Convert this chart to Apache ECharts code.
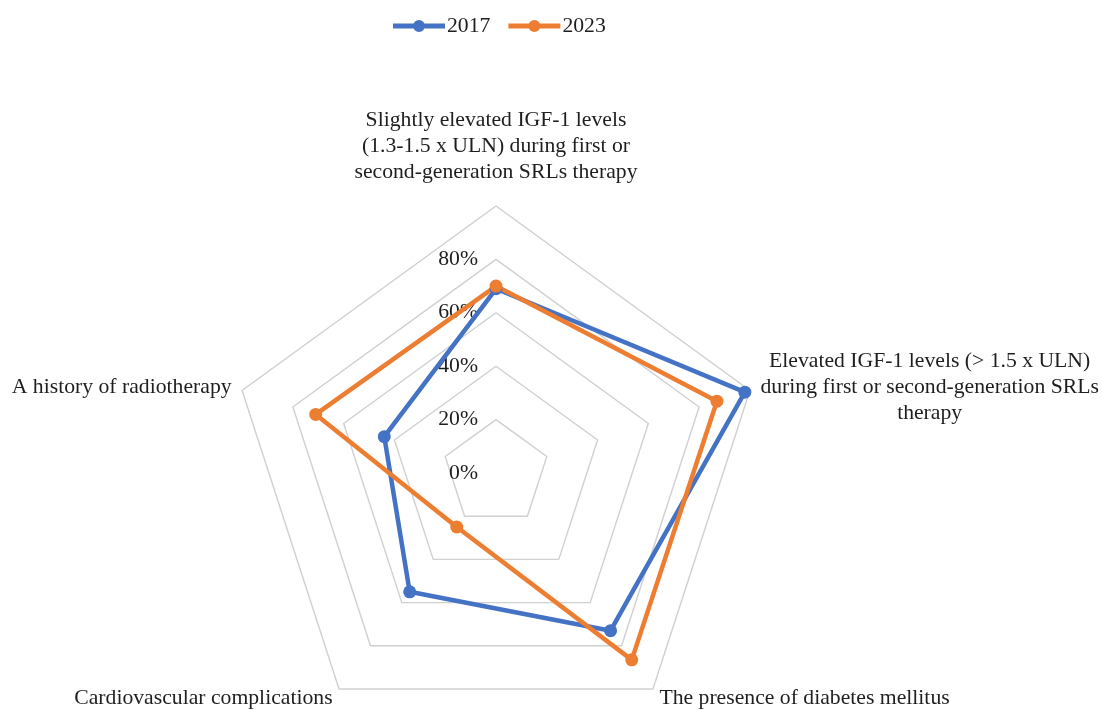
<!DOCTYPE html>
<html><head><meta charset="utf-8">
<script src="https://cdn.jsdelivr.net/npm/echarts@6/dist/echarts.min.js"></script>
<style>html,body{margin:0;padding:0;background:#fff}#c{width:1102px;height:710px}</style>
</head><body><div id="c"></div>
<script>
// Indicators in ECharts order (top first, then counter-clockwise)
const indicatorNames = [
  'Slightly elevated IGF-1 levels\n(1.3-1.5 x ULN) during first or\nsecond-generation SRLs therapy',
  'A history of radiotherapy',
  'Cardiovascular complications',
  'The presence of diabetes mellitus',
  'Elevated IGF-1 levels (> 1.5 x ULN)\nduring first or second-generation SRLs\ntherapy'
];
const values2017 = [69, 44, 55, 73, 98];
const values2023 = [70, 71, 25, 86.5, 87];
const seriesNames = ['2017', '2023'];
const seriesColors = ['#4472C4', '#ED7D31'];
const axisMax = 100;

const FONT = "'Liberation Serif', 'Times New Roman', serif";
const FS = 21.7;
const legendIcon = 'path://M0,4L52,4L52,9L0,9Z M20,6.5A6,6 0 1,1 32,6.5A6,6 0 1,1 20,6.5Z';

const chart = echarts.init(document.getElementById('c'));
chart.setOption({
  backgroundColor: '#fff',
  animation: false,
  legend: {
    left: 388, top: 10,
    itemWidth: 52, itemHeight: 13, itemGap: 18,
    data: seriesNames.map(n => ({ name: n, icon: legendIcon })),
    textStyle: { fontFamily: FONT, fontSize: FS, color: '#1e1e1e', padding: [0, 0, 0, -3] }
  },
  radar: {
    center: [496, 473],
    radius: 267,
    startAngle: 90,
    shape: 'polygon',
    splitNumber: 5,
    axisNameGap: 11,
    indicator: indicatorNames.map((n, i) => {
      const o = { name: n, min: 0, max: axisMax };
      if (i === 0) o.nameGap = 21;
      else o.axisLabel = { show: false };
      return o;
    }),
    axisName: {
      color: '#1e1e1e',
      fontFamily: FONT,
      fontSize: FS,
      lineHeight: 26,
      formatter: function (v) {
        return v.split('\n').map(s => '{c|' + s + '}').join('\n');
      },
      rich: {
        c: { align: 'center', fontFamily: FONT, fontSize: FS, lineHeight: 26, color: '#1e1e1e' }
      }
    },
    axisLine: { show: false },
    axisTick: { show: false },
    axisLabel: {
      show: true,
      margin: 18,
      color: '#1e1e1e',
      fontFamily: FONT,
      fontSize: FS,
      formatter: function (v) { return v >= axisMax ? '' : v + '%'; }
    },
    splitLine: { lineStyle: { color: '#d0d0d0', width: 1.4 } },
    splitArea: { show: false }
  },
  series: [{
    type: 'radar',
    symbol: 'circle',
    symbolSize: 13,
    data: [
      { name: seriesNames[0], value: values2017,
        itemStyle: { color: seriesColors[0] }, lineStyle: { color: seriesColors[0], width: 4.5 } },
      { name: seriesNames[1], value: values2023,
        itemStyle: { color: seriesColors[1] }, lineStyle: { color: seriesColors[1], width: 4.5 } }
    ]
  }]
});
</script>
</body></html>
